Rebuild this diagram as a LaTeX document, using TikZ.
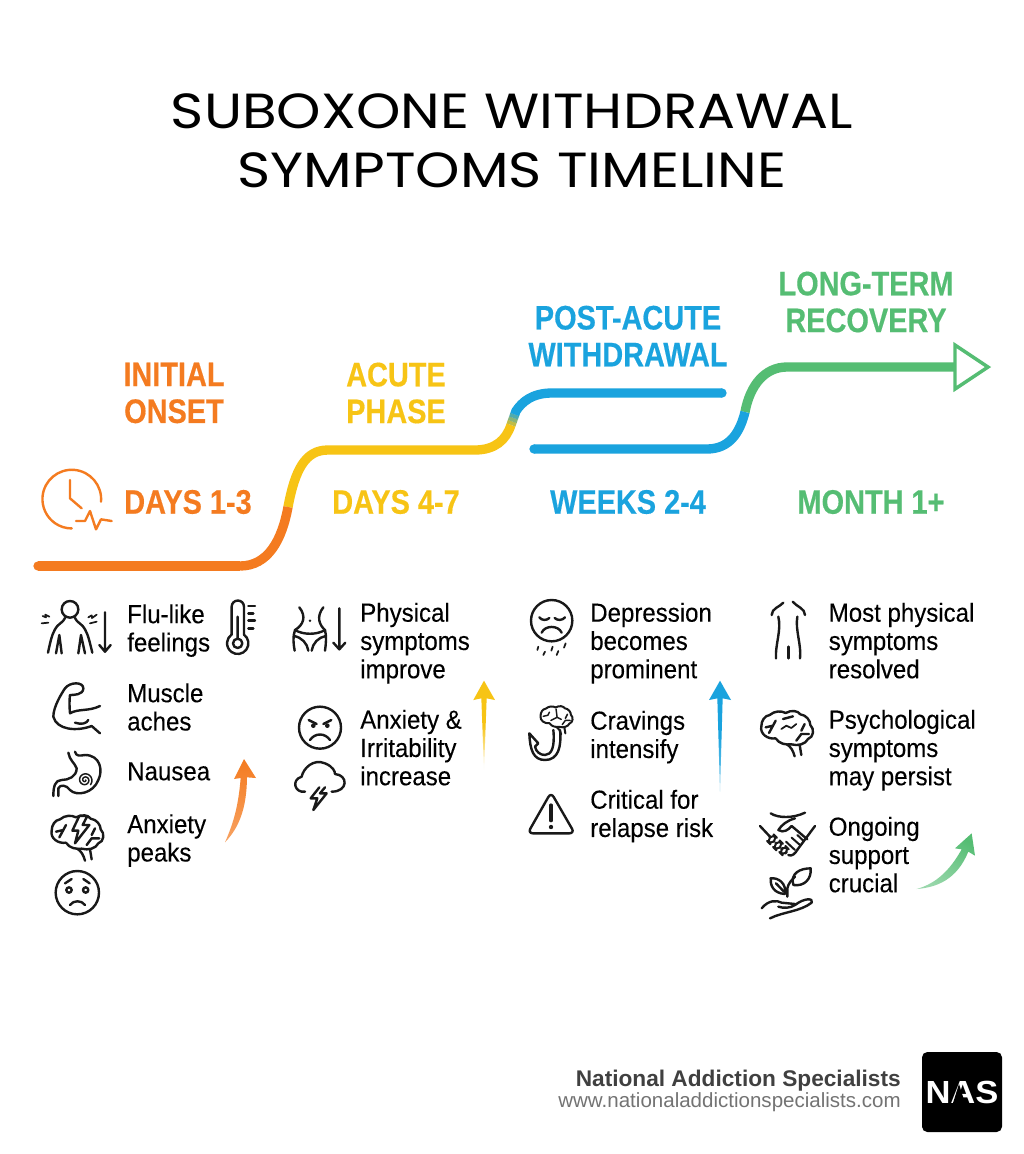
\documentclass[tikz,border=0pt]{standalone}
\usepackage{fontspec}
\usetikzlibrary{calc}
\setmainfont{Liberation Sans}
\newfontfamily\lab[FakeStretch=0.92,FakeBold=0.15]{Liberation Sans}
\newfontfamily\hd[FakeStretch=0.85,FakeBold=0.4]{Liberation Sans}
\newfontfamily\ttl[FakeStretch=1.145]{Poppins}
\newfontfamily\nasf[FakeStretch=1.08]{Liberation Sans}
\definecolor{cor}{HTML}{F47B20}
\definecolor{cye}{HTML}{F7C415}
\definecolor{cbl}{HTML}{1AA3DE}
\definecolor{cgr}{HTML}{55BD73}
\tikzset{
 zf/.style 2 args={shift={(#1,#2)},x=.25pt,y=-.25pt},
 ic/.style={draw=black!90,line width=1.8pt,line cap=round,line join=round},
 thn/.style={draw=black!90,line width=1.3pt,line cap=round,line join=round},
 ck/.style={draw=cor,line width=1.8pt,line cap=round,line join=round},
 tl/.style={line width=7pt,line cap=butt},
 lb/.style={anchor=north west,inner sep=0pt,align=left,font=\lab\fontsize{19.6pt}{21.2pt}\selectfont,text=black},
 hdg/.style={inner sep=0pt,align=center,font=\hd\bfseries\fontsize{25.5pt}{27.6pt}\selectfont},
 ttln/.style={inner sep=0pt,font=\ttl\fontsize{37pt}{44pt}\selectfont,text=black}
}
\newcommand{\brainout}{%
 \draw[ic] (78,128) .. controls (55,132) and (30,115) .. (35,92) .. controls (35,75) and (45,60) .. (60,58) .. controls (75,45) and (95,45) .. (108,52) .. controls (125,42) and (145,45) .. (152,56) .. controls (170,58) and (182,75) .. (182,88) .. controls (195,100) and (192,125) .. (175,130) .. controls (168,145) and (145,152) .. (125,146) .. controls (110,148) and (88,145) .. (78,128);
 \draw[ic] (112,146) .. controls (125,155) and (130,165) .. (135,182) (150,148) -- (155,178);}
\begin{document}
\begin{tikzpicture}[x=.75pt,y=-.75pt]
\useasboundingbox[fill=white] (0,0) rectangle (1024,1154);
% title
\node[ttln] (t1) at (512,111) {SUBOXONE WITHDRAWAL};
\node[ttln] (t2) at (512,170) {SYMPTOMS TIMELINE};
% headings
\node[hdg,text=cor] (h1) at (174,393) {INITIAL\\ONSET};
\node[hdg,text=cye] (h2) at (396,393) {ACUTE\\PHASE};
\node[hdg,text=cbl] (h3) at (628,336) {POST-ACUTE\\WITHDRAWAL};
\node[hdg,text=cgr] (h4) at (866,302) {LONG-TERM\\RECOVERY};
\node[hdg,text=cor] (d1) at (188,502) {DAYS 1-3};
\node[hdg,text=cye] (d2) at (396,502) {DAYS 4-7};
\node[hdg,text=cbl] (d3) at (628,502) {WEEKS 2-4};
\node[hdg,text=cgr] (d4) at (871,502) {MONTH 1+};
% timeline
\coordinate (a0) at (38,566); \coordinate (a1) at (240,566); \coordinate (a2) at (288,507);
\coordinate (b1) at (328,450); \coordinate (b2) at (475,450); \coordinate (b3) at (511,425);
\coordinate (b4) at (516,411);
\coordinate (c1) at (552,393); \coordinate (c2) at (722,393);
\coordinate (e0) at (534,449); \coordinate (e1) at (707,449); \coordinate (e2) at (745,412);
\coordinate (f1) at (787,367); \coordinate (f2) at (955,367); \coordinate (f3) at (988,367);
\draw[tl,cye] (a2) .. controls (295,470) and (305,450) .. (b1) -- (b2) .. controls (495,450) and (506,440) .. (b3);
\draw[tl,cor] (a1) .. controls (268,566) and (282,540) .. (a2);
\draw[tl,cor] (a0) -- (a1);
\fill[cor] (a0) circle[radius=4.66];
\draw[tl,cye!75!cbl] (b3) -- ($(b3)!.26!(b4)$);
\draw[tl,cye!50!cbl] ($(b3)!.25!(b4)$) -- ($(b3)!.51!(b4)$);
\draw[tl,cye!25!cbl] ($(b3)!.5!(b4)$) -- ($(b3)!.76!(b4)$);
\draw[tl,cbl] ($(b3)!.75!(b4)$) -- (b4) .. controls (522,402) and (532,393) .. (c1) -- (c2);
\fill[cbl] (c2) circle[radius=4.66];
\draw[tl,cgr] (e2) .. controls (750,385) and (765,367) .. (f1) -- (f2);
\draw[tl,cbl] (e0) -- (e1) .. controls (730,449) and (740,432) .. (e2);
\fill[cbl] (e0) circle[radius=4.66];
\coordinate (f4) at (955,345); \coordinate (f5) at (955,389);
\draw[cgr,line width=2.6pt,line join=miter,fill=white] (f4) -- (f3) -- (f5) -- cycle;
% clock
\begin{scope}[zf={20}{440}]
 \draw[ck] (243,185) arc[start angle=5,end angle=-270,radius=88];
 \draw[ck] (150,120) -- (150,175) -- (185,205);
 \draw[ck] (168,243) -- (195,243) -- (210,213) -- (228,268) -- (243,238) -- (275,243);
\end{scope}
% texts
\node[lb] (x1) at (127,604) {Flu-like\\feelings};
\node[lb] (x2) at (127,683) {Muscle\\aches};
\node[lb] (x3) at (127,762) {Nausea};
\node[lb] (x4) at (127,814) {Anxiety\\peaks};
\node[lb] (x5) at (360,602.5) {Physical\\symptoms\\improve};
\node[lb] (x6) at (360,709.5) {Anxiety \&\\Irritability\\increase};
\node[lb] (x7) at (590,602.5) {Depression\\becomes\\prominent};
\node[lb] (x8) at (590,710.5) {Cravings\\intensify};
\node[lb] (x9) at (590,789.5) {Critical for\\relapse risk};
\node[lb] (x10) at (828.5,602.5) {Most physical\\symptoms\\resolved};
\node[lb] (x11) at (828.5,709.5) {Psychological\\symptoms\\may persist};
\node[lb] (x12) at (828.5,816.5) {Ongoing\\support\\crucial};
% column 1 icons
\begin{scope}[zf={20}{580}]
 % person
 \draw[ic] (150,88) circle[radius=25];
 \draw[ic] (84,218) .. controls (90,190) and (95,165) .. (105,148) .. controls (112,132) and (130,128) .. (135,114);
 \draw[ic] (217,218) .. controls (210,190) and (205,165) .. (195,148) .. controls (188,132) and (170,128) .. (165,114);
 \draw[ic] (108,220) -- (118,165) -- (125,220) (195,220) -- (183,165) -- (175,220);
 \draw[thn] (68,108) -- (78,112) -- (76,104) -- (88,110) (65,130) -- (85,128);
 \draw[thn] (205,112) -- (215,106) -- (216,114) -- (230,104) (210,130) -- (230,125);
 \draw[ic] (255,97) -- (255,215) (238,195) -- (255,215) -- (272,195);
 % thermometer
 \draw[ic] (672,164) -- (672,80) arc[start angle=0,end angle=-180,radius=18.5] -- (635,164);
 \draw[ic] (672,164) arc[start angle=-54,end angle=234,radius=32];
 \draw[ic] (653,190) circle[radius=14] (653,110) -- (653,176);
 \draw[ic] (685,78) -- (705,78) (685,100) -- (700,100) (685,122) -- (705,122) (685,145) -- (700,145);
 % muscle
 \draw[ic] (240,460) -- (215,438) .. controls (170,455) and (110,450) .. (100,410) .. controls (100,380) and (125,340) .. (135,325) .. controls (150,305) and (190,305) .. (190,325) .. controls (190,345) and (160,345) .. (150,345) .. controls (148,360) and (148,380) .. (150,400) .. controls (175,385) and (205,395) .. (240,378);
 \draw[ic] (165,428) .. controls (185,435) and (200,430) .. (205,420);
 % stomach
 \draw[ic] (165,515) .. controls (168,530) and (180,527) .. (195,525) .. controls (240,525) and (250,570) .. (235,600) .. controls (220,640) and (170,650) .. (150,630) .. controls (140,615) and (120,612) .. (115,625) -- (115,648);
 \draw[ic] (145,518) .. controls (148,540) and (165,550) .. (170,565) .. controls (170,590) and (145,600) .. (125,600) .. controls (105,600) and (100,620) .. (100,648);
 \draw[thn,line width=1.1pt] plot[domain=0:760,samples=60,smooth] ({195+(2+\x*0.026)*cos(\x)},{600+(2+\x*0.026)*sin(\x)});
 % face
 \draw[ic] (172,938) circle[radius=65];
 \draw[ic] (147,930) circle[radius=8] (197,930) circle[radius=8];
 \draw[ic] (135,910) -- (155,897) (209,910) -- (190,897);
 \draw[ic] (150,975) .. controls (160,960) and (185,960) .. (195,975);
 % arrow
 \path[top color=cor,bottom color=cor!70!white] (672,537) -- (708,594) -- (681,592) .. controls (680,680) and (660,740) .. (615,787) .. controls (640,730) and (655,680) .. (662,594) -- (642,597) -- cycle;
\end{scope}
\begin{scope}[zf={40}{800}]
 \brainout
 \draw[ic] (48,95) -- (70,90) -- (78,75) (58,112) -- (70,90) (165,85) -- (155,105) (178,115) -- (155,115) -- (140,135);
 \draw[ic,fill=white] (118,48) -- (142,48) -- (128,75) -- (148,75) -- (105,130) -- (115,92) -- (97,92) -- cycle;
\end{scope}
% columns 2-3 icons
\begin{scope}[zf={280}{580}]
 % waist
 \draw[ic] (58,82) .. controls (80,110) and (70,135) .. (45,150) .. controls (38,170) and (40,190) .. (44,212);
 \draw[ic] (130,82) .. controls (108,110) and (118,135) .. (135,150) .. controls (140,170) and (138,190) .. (135,212);
 \draw[ic] (45,150) .. controls (70,165) and (110,165) .. (135,150);
 \draw[ic] (42,168) .. controls (65,172) and (82,190) .. (85,212) (137,168) .. controls (115,172) and (98,190) .. (95,212);
 \fill[black!90] (90,122) circle[radius=4];
 \draw[ic] (178,85) -- (178,208) (160,188) -- (178,208) -- (196,188);
 % angry
 \draw[ic] (120,443) circle[radius=63];
 \fill[black!90] (100,437) circle[radius=7] (142,437) circle[radius=7];
 \draw[ic] (86,420) -- (110,432) (154,420) -- (130,432);
 \draw[ic] (90,480) .. controls (105,458) and (135,458) .. (150,480);
 % cloud
 \draw[ic] (75,635) .. controls (45,640) and (32,600) .. (65,590) .. controls (70,565) and (100,535) .. (135,550) .. controls (160,560) and (165,575) .. (165,582) .. controls (205,585) and (205,635) .. (155,635);
 \draw[ic] (118,622) -- (92,655) -- (112,655) -- (100,690) -- (140,640) -- (120,640) -- (135,622);
 % yellow arrow
 \path[top color=cye,bottom color=white,middle color=cye] (612,302) -- (645,360) -- (620,355) -- (612,570) -- (604,355) -- (580,360) -- cycle;
 % depression face
 \draw[ic] (815,122) circle[radius=62];
 \draw[ic] (778,112) .. controls (785,122) and (800,122) .. (808,114) (824,114) .. controls (832,122) and (847,122) .. (855,112);
 \draw[ic] (785,158) .. controls (795,135) and (835,135) .. (845,158);
 \draw[thn] (775,200) -- (772,210) (795,215) -- (790,225) (818,200) -- (814,212) (835,213) -- (830,225) (857,190) -- (852,203);
 % craving brain
 \begin{scope}[shift={(760,350)},scale=.62,thn/.append style={line width=1.1pt},ic/.append style={line width=1.5pt}]
  \brainout
  \draw[thn] (48,95) -- (70,90) -- (78,75) (165,85) -- (155,105) (178,115) -- (155,115) -- (140,135) (110,60) -- (115,100) (85,115) -- (115,100) -- (135,110);
 \end{scope}
 % hook
 \draw[ic] (840,450) .. controls (845,500) and (835,540) .. (795,540) .. controls (760,540) and (750,510) .. (748,460) -- (775,490) -- (765,500) .. controls (768,515) and (780,525) .. (795,525) .. controls (815,525) and (825,500) .. (820,450);
 % warning
 \draw[ic,rounded corners=4pt] (813,637) -- (884,760) -- (743,760) -- cycle;
 \draw[ic,line width=2.4pt] (813,675) -- (813,722);
 \fill[black!90] (813,741) circle[radius=6.5];
 % blue arrow
 \path[top color=cbl,bottom color=cbl!50!white,middle color=cbl] (1320,302) -- (1353,360) -- (1328,355) -- (1320,635) -- (1312,355) -- (1287,360) -- cycle;
\end{scope}
% column 4 icons
\begin{scope}[zf={740}{590}]
 \draw[ic] (95,75) .. controls (95,55) and (120,50) .. (130,38) (195,75) .. controls (195,55) and (170,50) .. (158,35);
 \draw[ic] (115,80) .. controls (125,120) and (105,165) .. (108,205) (172,80) .. controls (165,120) and (185,165) .. (180,205);
 \draw[ic] (145,170) -- (145,205);
 \begin{scope}[shift={(29,317)}]
  \brainout
  \draw[ic] (48,95) -- (70,90) -- (78,75) (58,112) -- (70,90) (165,85) -- (155,105) (178,115) -- (155,115) -- (140,135) (100,70) -- (130,62);
  \draw[thn] (95,100) -- (110,90) -- (125,97) -- (140,85);
 \end{scope}
 % plant
 \draw[ic] (142,920) -- (142,895) .. controls (145,880) and (155,870) .. (165,860);
 \draw[ic] (160,885) .. controls (150,850) and (180,835) .. (212,835) .. controls (215,865) and (195,890) .. (160,885);
 \draw[ic] (135,912) .. controls (100,910) and (90,885) .. (92,865) .. controls (115,862) and (140,880) .. (135,912);
 \draw[ic] (108,880) -- (132,905);
 \draw[ic] (65,955) .. controls (85,930) and (110,930) .. (125,938) -- (165,942);
 \draw[ic] (90,985) .. controls (130,965) and (180,965) .. (215,938) .. controls (222,925) and (195,922) .. (165,945) .. controls (150,955) and (130,955) .. (115,950);
 % green arrow
 \path[top color=cgr,bottom color=cgr!60!white,shading angle=-30] (695,730) -- (705,797) -- (685,785) .. controls (650,870) and (590,892) .. (530,897) .. controls (590,880) and (630,840) .. (665,778) -- (645,775) -- cycle;
\end{scope}
% handshake
\begin{scope}[zf={750}{800}]
 \draw[ic] (62,40) .. controls (85,55) and (130,55) .. (165,38);
 \draw[ic] (30,78) -- (60,110) (195,78) -- (143,148);
 \draw[ic] (135,55) .. controls (110,62) and (95,75) .. (85,90) .. controls (100,100) and (115,90) .. (125,78) -- (172,118);
 \draw[thn,line width=1.5pt,rounded corners=4pt,rotate around={45:(66,118)}] (52,109) rectangle (80,127);
 \draw[thn,line width=1.5pt,rounded corners=4pt,rotate around={45:(84,136)}] (70,127) rectangle (98,145);
 \draw[thn,line width=1.5pt,rounded corners=4pt,rotate around={45:(102,152)}] (89,143) rectangle (115,161);
 \draw[ic] (143,148) .. controls (135,162) and (125,170) .. (115,165);
 \draw[thn,line width=1.5pt] (108,125) -- (135,150) (125,113) -- (150,135) (142,105) -- (160,122);
\end{scope}
% footer
\node[anchor=east,inner sep=0pt,font=\bfseries\fontsize{17pt}{20pt}\selectfont,text=black!75] (f) at (901,1080.5) {National Addiction Specialists};
\node[anchor=east,inner sep=0pt,font=\fontsize{15.4pt}{18pt}\selectfont,text=black!55] (w) at (901,1102) {www.nationaladdictionspecialists.com};
\node[fill=black,rounded corners=4pt,minimum width=60pt,minimum height=60pt,inner sep=0pt,font=\nasf\bfseries\fontsize{24pt}{24pt}\selectfont,text=white] (nas) at (962,1092) {NAS};
\coordinate (n1) at (959,1084); \coordinate (n2) at (953,1103); \coordinate (n3) at (965,1103);
\fill[black] (n1) -- (n2) -- (n3) -- cycle;
\end{tikzpicture}
\end{document}
